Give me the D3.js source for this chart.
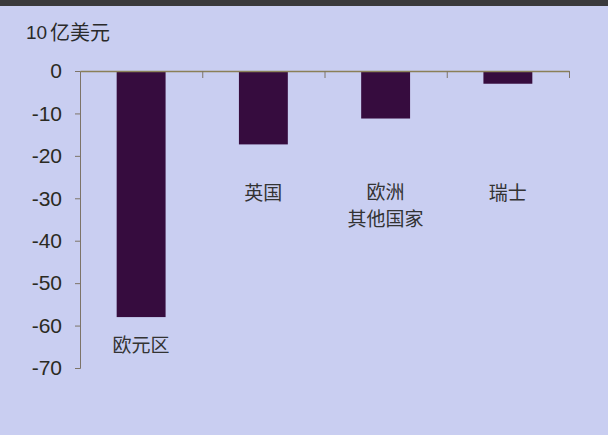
<!DOCTYPE html>
<html>
<head>
<meta charset="utf-8">
<script src="https://cdn.jsdelivr.net/npm/d3@7"></script>
<style>
  body { margin: 0; background: #c9cef1; }
  svg { display: block; }
</style>
</head>
<body>
<div id="chart"></div>
<script>
var categories = ['欧元区', '英国', '欧洲其他国家', '瑞士'];
var labelLines = [['欧元区'], ['英国'], ['欧洲', '其他国家'], ['瑞士']];
var values = [-58, -17.3, -11.2, -3];
var yTicks = [0, -10, -20, -30, -40, -50, -60, -70];

var w = 608;
var h = 435;
var numFont = 'Liberation Sans Narrow, Arial Narrow, Liberation Sans, sans-serif';

var svg = d3.select('#chart').append('svg')
  .attr('width', w)
  .attr('height', h);

svg.append('rect').attr('width', w).attr('height', h).attr('fill', '#c9cef1');
// dark strip on top
svg.append('rect').attr('width', w).attr('height', 6).attr('fill', '#3a3a3c');

var x = d3.scaleBand().domain(categories).range([80, 569]).paddingInner(0.6).paddingOuter(0.3);
var y = d3.scaleLinear().domain([0, -70]).range([71, 368]);

// title
svg.append('text')
  .attr('x', 26).attr('y', 39)
  .attr('font-family', numFont).attr('font-size', 19).attr('fill', '#2a2a2a')
  .text('10');
svg.append('text')
  .attr('x', 50).attr('y', 40)
  .attr('font-family', 'Noto Sans CJK SC, sans-serif').attr('font-size', 20).attr('fill', '#2a2a2a')
  .text('亿美元');

// bars
svg.selectAll('.bar')
  .data(values)
  .enter()
  .append('rect')
  .attr('class', 'bar')
  .attr('x', function (d, i) { return x(categories[i]); })
  .attr('y', y(0))
  .attr('width', x.bandwidth())
  .attr('height', function (d) { return y(d) - y(0); })
  .attr('fill', '#360c3e');

// y axis
var yAxis = svg.append('g')
  .attr('transform', 'translate(80,0)')
  .call(d3.axisLeft(y).tickValues(yTicks).tickSize(5).tickPadding(13)
    .tickFormat(function (d) { return String(d); }));
yAxis.select('.domain').attr('stroke', '#7d7468');
yAxis.selectAll('.tick line').attr('stroke', '#7d7468');
yAxis.selectAll('.tick text')
  .attr('font-family', numFont).attr('font-size', 21).attr('fill', '#2b2a22');

// x axis along zero
var xEdges = d3.scaleLinear().domain([0, 4]).range([80, 569]);
var xAxis = svg.append('g')
  .attr('transform', 'translate(0,' + y(0) + ')')
  .call(d3.axisBottom(xEdges).tickValues([1, 2, 3, 4]).tickSize(7).tickSizeOuter(0).tickFormat(''));
xAxis.select('.domain').attr('stroke', '#8a8058').attr('stroke-width', 1.5);
xAxis.selectAll('.tick line').attr('stroke', '#7d7468');

// category labels
var labelY = [345, 193, 192, 193];
var g = svg.selectAll('.cat')
  .data(labelLines)
  .enter()
  .append('text')
  .attr('class', 'cat')
  .attr('text-anchor', 'middle')
  .attr('font-family', 'Noto Sans CJK SC, sans-serif')
  .attr('font-size', 19)
  .attr('fill', '#333')
  .attr('x', function (d, i) { return x(categories[i]) + x.bandwidth() / 2; })
  .attr('y', function (d, i) { return labelY[i] + 7; });
g.selectAll('tspan')
  .data(function (d) { return d; })
  .enter()
  .append('tspan')
  .attr('x', function () { return d3.select(this.parentNode).attr('x'); })
  .attr('dy', function (d, j) { return j === 0 ? 0 : 27; })
  .text(function (d) { return d; });
</script>
</body>
</html>
